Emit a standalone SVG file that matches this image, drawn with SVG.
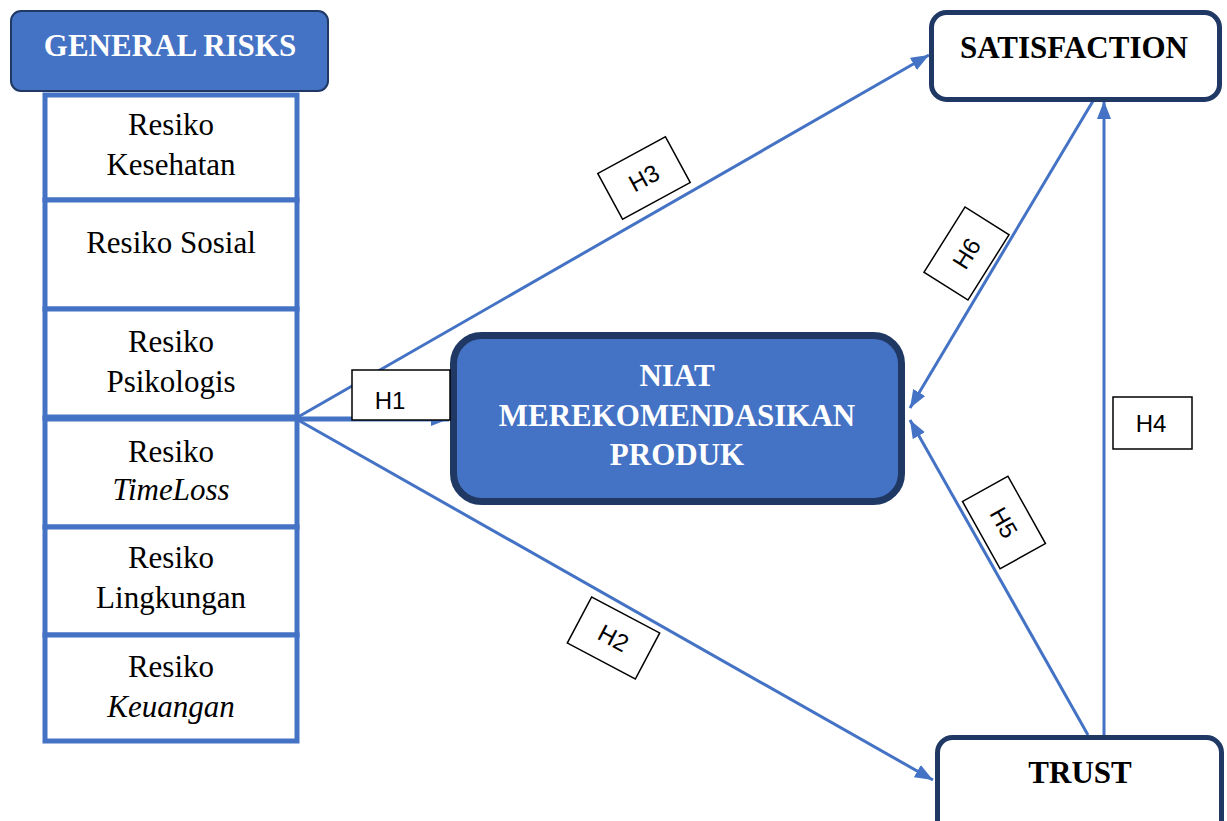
<svg xmlns="http://www.w3.org/2000/svg" width="1227" height="821" viewBox="0 0 1227 821">
  <style>
    .risk { fill: #ffffff; stroke: #4472C4; stroke-width: 5; }
    .serif { font-family: "Liberation Serif", "Times New Roman", serif; font-size: 31px; fill: #000000; text-anchor: middle; }
    .ital { font-style: italic; }
    .head { font-family: "Liberation Serif", "Times New Roman", serif; font-size: 31px; font-weight: bold; text-anchor: middle; }
    .white { fill: #ffffff; }
    .dark { fill: #000000; }
    .node { fill: #ffffff; stroke: #1F3864; stroke-width: 5; }
    .main { fill: #4472C4; stroke: #1F3864; stroke-width: 7; }
    .conn { stroke: #4472C4; stroke-width: 3; fill: none; marker-end: url(#arrow); }
    .lbl rect { fill: #ffffff; stroke: #000000; stroke-width: 1.5; }
    .lbl text { font-family: "Liberation Sans", Arial, sans-serif; font-size: 24px; fill: #000000; text-anchor: middle; }
  </style>
  <defs>
    <marker id="arrow" markerUnits="userSpaceOnUse" markerWidth="18" markerHeight="14" refX="18" refY="7" orient="auto">
      <path d="M0,0 L18,7 L0,14 Z" fill="#4472C4"/>
    </marker>
  </defs>

  <rect width="1227" height="821" fill="#ffffff"/>

  <!-- connectors -->
  <g id="connectors">
    <line class="conn" x1="298" y1="417" x2="929" y2="55"/>
    <line class="conn" x1="298" y1="420" x2="933" y2="780"/>
    <line class="conn" x1="298" y1="419" x2="449" y2="419" style="stroke-width:5"/>
    <line class="conn" x1="1093" y1="101" x2="910" y2="408"/>
    <line class="conn" x1="1088" y1="735" x2="910" y2="420"/>
    <line class="conn" x1="1104" y1="735" x2="1104" y2="101"/>
  </g>

  <!-- general risks column -->
  <g id="general-risks">
    <rect x="11" y="11" width="317" height="80" rx="10" fill="#4472C4" stroke="#1F3864" stroke-width="2"/>
    <text class="head white" x="170" y="56">GENERAL RISKS</text>
  </g>
  <g id="risk-kesehatan">
    <rect class="risk" x="45" y="95" width="252" height="105"/>
    <text class="serif" x="171" y="135">Resiko</text>
    <text class="serif" x="171" y="175">Kesehatan</text>
  </g>
  <g id="risk-sosial">
    <rect class="risk" x="45" y="200" width="252" height="109"/>
    <text class="serif" x="171" y="253">Resiko Sosial</text>
  </g>
  <g id="risk-psikologis">
    <rect class="risk" x="45" y="309" width="252" height="109"/>
    <text class="serif" x="171" y="352">Resiko</text>
    <text class="serif" x="171" y="392">Psikologis</text>
  </g>
  <g id="risk-timeloss">
    <rect class="risk" x="45" y="418" width="252" height="109"/>
    <text class="serif" x="171" y="462">Resiko</text>
    <text class="serif ital" x="171" y="500">TimeLoss</text>
  </g>
  <g id="risk-lingkungan">
    <rect class="risk" x="45" y="527" width="252" height="108"/>
    <text class="serif" x="171" y="568">Resiko</text>
    <text class="serif" x="171" y="608">Lingkungan</text>
  </g>
  <g id="risk-keuangan">
    <rect class="risk" x="45" y="635" width="252" height="106"/>
    <text class="serif" x="171" y="677">Resiko</text>
    <text class="serif ital" x="171" y="717">Keuangan</text>
  </g>
  <line x1="45" y1="418" x2="297" y2="418" stroke="#4472C4" stroke-width="7"/>

  <!-- outcome nodes -->
  <g id="niat">
    <rect class="main" x="453.5" y="335.5" width="448" height="166" rx="28"/>
    <text class="head white" x="677" y="386">NIAT</text>
    <text class="head white" x="677" y="426">MEREKOMENDASIKAN</text>
    <text class="head white" x="677" y="465">PRODUK</text>
  </g>
  <g id="satisfaction">
    <rect class="node" x="931.5" y="12.5" width="288" height="87" rx="15"/>
    <text class="head dark" x="1074" y="58">SATISFACTION</text>
  </g>
  <g id="trust">
    <rect class="node" x="937.5" y="737.5" width="284" height="110" rx="15"/>
    <text class="head dark" x="1080" y="783">TRUST</text>
  </g>

  <!-- hypothesis labels -->
  <g id="label-h1" class="lbl">
    <rect x="352" y="370" width="98" height="50"/>
    <text x="390" y="409">H1</text>
  </g>
  <g id="label-h2" class="lbl" transform="translate(613.5,638) rotate(27.9)">
    <rect x="-38.5" y="-26" width="77" height="52"/>
    <text x="0" y="8.5">H2</text>
  </g>
  <g id="label-h3" class="lbl" transform="translate(644,178) rotate(-28.5)">
    <rect x="-38.5" y="-26" width="77" height="52"/>
    <text x="0" y="8.5">H3</text>
  </g>
  <g id="label-h4" class="lbl">
    <rect x="1113" y="397" width="79" height="52"/>
    <text x="1151" y="432">H4</text>
  </g>
  <g id="label-h5" class="lbl" transform="translate(1004,522.5) rotate(60.8)">
    <rect x="-38.5" y="-26" width="77" height="52"/>
    <text x="0" y="8.5">H5</text>
  </g>
  <g id="label-h6" class="lbl" transform="translate(966.5,253.5) rotate(-57.8)">
    <rect x="-38.5" y="-26" width="77" height="52"/>
    <text x="0" y="8.5">H6</text>
  </g>
</svg>
